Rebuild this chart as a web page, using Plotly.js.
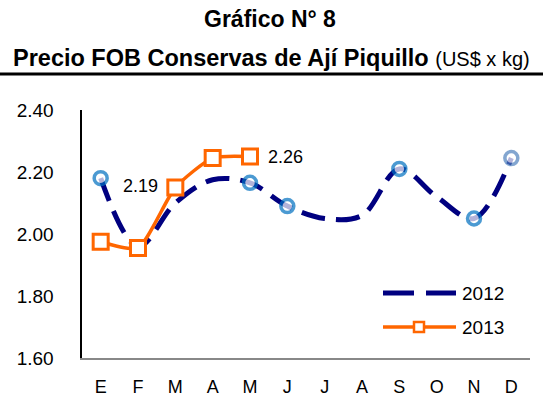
<!DOCTYPE html>
<html><head><meta charset="utf-8">
<script src="https://cdn.plot.ly/plotly-3.0.1.min.js"></script>
<style>html,body{margin:0;padding:0;background:#fff}#c{width:543px;height:403px}</style>
</head><body><div id="c"></div>
<script>
const tickText = ["E","F","M","A","M","J","J","A","S","O","N","D"];
const v2012 = [2.18, 1.96, 2.10, 2.175, 2.165, 2.09, 2.05, 2.06, 2.21, 2.12, 2.05, 2.245];
const mark2012 = [1,0,0,0,1,1,0,0,1,0,1,1];
const v2013 = [1.975, 1.955, 2.15, 2.245, 2.25];
const labelX = [1.07, 4.95];
const labelY = [2.155, 2.25];
const labelText = ["2.19", "2.26"];
const seriesNames = ["2012", "2013"];

const xIdx12 = v2012.map((_, i) => i);
const xIdx13 = v2013.map((_, i) => i);

const traces = [
  {x: xIdx12, y: v2012, name: seriesNames[0], mode: "lines+markers", type: "scatter",
   line: {color: "#000080", width: 5, dash: "24px,11px", shape: "spline", smoothing: 1},
   marker: {symbol: "circle", size: mark2012.map(m => m ? 13 : 0), color: "#ffffff",
            line: {color: mark2012.map((m,i) => i === 11 ? "#4F81BD" : "#0070C0"), width: mark2012.map(m => m ? 3.5 : 0)}},
   showlegend: false},
  {x: xIdx13, y: v2013, name: seriesNames[1], mode: "lines+markers", type: "scatter",
   line: {color: "#FF6600", width: 3.5, shape: "spline", smoothing: 0.6},
   marker: {symbol: "square", size: 15, color: "#ffffff", line: {color: "#FF6600", width: 3}},
   showlegend: false}
];

const legendY = [293, 327];
const layout = {
  width: 543, height: 403,
  margin: {l: 82, r: 13, t: 110, b: 45},
  paper_bgcolor: "#fff", plot_bgcolor: "#fff",
  font: {family: "Liberation Sans, Arial, sans-serif", size: 18, color: "#000"},
  showlegend: false,
  xaxis: {range: [-0.5, 11.5], tickvals: xIdx12, ticktext: tickText,
          showgrid: false, zeroline: false, showline: true, linecolor: "#888", linewidth: 1.5,
          ticks: "outside", ticklen: 12, tickcolor: "rgba(0,0,0,0)", tickfont: {size: 18}},
  yaxis: {range: [1.60, 2.40], dtick: 0.2, tickformat: ".2f", showgrid: false, zeroline: false,
          showline: true, linecolor: "#000", linewidth: 2.5,
          ticks: "outside", ticklen: 22, tickcolor: "rgba(0,0,0,0)", tickfont: {size: 19}},
  annotations: [
    {text: "<b>Gráfico N° 8</b>", xref: "paper", yref: "paper", x: 0.5, y: 1, yshift: 91,
     xanchor: "center", yanchor: "middle", showarrow: false, font: {size: 23}, xshift: -36},
    {text: "<b>Precio FOB Conservas de Ají Piquillo</b> <span style='font-size:20px'>(US$ x kg)</span>", xref: "paper", yref: "paper",
     x: 0.5, y: 1, yshift: 52, xanchor: "center", yanchor: "middle", showarrow: false, font: {size: 23.5}, xshift: -35},
    ...labelText.map((t, i) => ({text: t, x: labelX[i], y: labelY[i], xref: "x", yref: "y",
      showarrow: false, xanchor: "center", yanchor: "middle", font: {size: 18}})),
    ...seriesNames.map((n, i) => ({text: n, xref: "paper", yref: "paper",
      x: (460 - 82) / 448, y: (358 - legendY[i]) / 248, xanchor: "left", yanchor: "middle",
      showarrow: false, font: {size: 19}}))
  ],
  shapes: [
    {type: "line", xref: "paper", yref: "paper", x0: -0.2, x1: 1.04, y0: (358 - 74) / 248, y1: (358 - 74) / 248,
     line: {color: "#000", width: 3}},
    {type: "line", xref: "paper", yref: "paper", x0: (383 - 82) / 448, x1: (456 - 82) / 448,
     y0: (358 - legendY[0]) / 248, y1: (358 - legendY[0]) / 248,
     line: {color: "#000080", width: 5, dash: "31px,12px"}},
    {type: "line", xref: "paper", yref: "paper", x0: (383 - 82) / 448, x1: (456 - 82) / 448,
     y0: (358 - legendY[1]) / 248, y1: (358 - legendY[1]) / 248,
     line: {color: "#FF6600", width: 3.5}},
    {type: "rect", xref: "paper", yref: "paper", x0: (414 - 82) / 448, x1: (424 - 82) / 448,
     y0: (358 - legendY[1] - 5) / 248, y1: (358 - legendY[1] + 5) / 248,
     fillcolor: "#fff", line: {color: "#FF6600", width: 2.5}}
  ]
};

Plotly.newPlot("c", traces, layout, {displayModeBar: false, staticPlot: true});
</script></body></html>
